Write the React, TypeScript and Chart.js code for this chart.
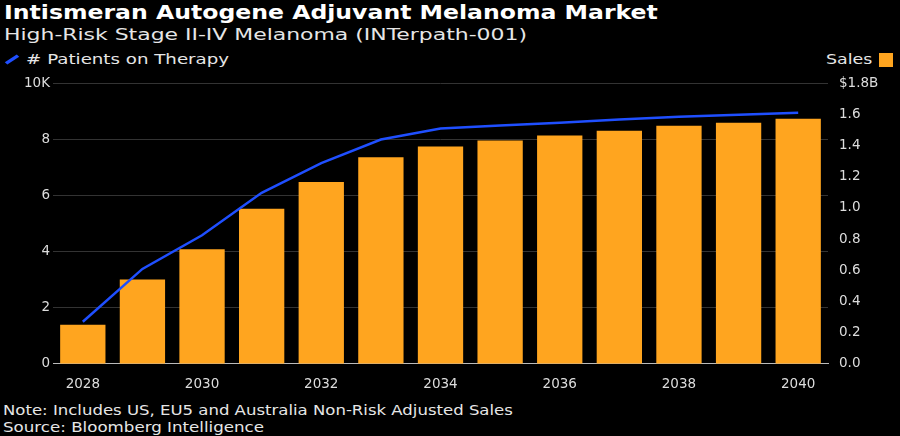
import React, { useEffect, useRef } from "react";
import { Chart, registerables } from "chart.js";
Chart.register(...registerables);

const years = ["2028","2029","2030","2031","2032","2033","2034","2035","2036","2037","2038","2039","2040"];
const salesB = [0.25,0.54,0.735,0.995,1.166,1.325,1.394,1.432,1.464,1.495,1.527,1.546,1.572];
const patientsK = [1.5,3.38,4.58,6.09,7.15,7.99,8.38,8.49,8.59,8.7,8.8,8.87,8.94];

export default function App() {
  const ref = useRef<HTMLCanvasElement>(null);
  useEffect(() => {
    const font = { family: "DejaVu Sans", size: 13.5 };
    const c = new Chart(ref.current!, {
      data: {
        labels: years,
        datasets: [
          { type: "line", data: patientsK, borderColor: "#1f4fff", borderWidth: 2.5, pointRadius: 0, yAxisID: "yL", order: 0 },
          { type: "bar", data: salesB, backgroundColor: "#ffa51f", yAxisID: "yR", categoryPercentage: 0.8, barPercentage: 0.95, order: 1 },
        ],
      },
      options: {
        animation: false, responsive: false, maintainAspectRatio: false,
        plugins: { legend: { display: false }, tooltip: { enabled: false } },
        layout: { padding: { left: 0, right: 0, top: 8, bottom: 0 } },
        scales: {
          x: {
            grid: { display: false, drawTicks: true },
            border: { color: "#bbbbbb" },
            ticks: { color: "#dddddd", font, maxRotation: 0, autoSkip: false, padding: 5,
              callback: (_v: any, i: number) => (i % 2 === 0 ? years[i] : "") },
          },
          yL: {
            position: "left", min: 0, max: 10,
            ticks: { stepSize: 2, color: "#dddddd", font, callback: (v: any) => (v === 10 ? "10K" : String(v)) },
            grid: { color: "#333333", drawTicks: false }, border: { display: false },
            afterFit: (s: any) => { s.width = 53; },
          },
          yR: {
            position: "right", min: 0, max: 1.8,
            ticks: { stepSize: 0.2, color: "#dddddd", font, callback: (v: any) => (Math.abs(v - 1.8) < 1e-6 ? "$1.8B" : Number(v).toFixed(1)) },
            grid: { display: false }, border: { display: false },
            afterFit: (s: any) => { s.width = 64; },
          },
        },
      },
    } as any);
    return () => c.destroy();
  }, []);
  const t: React.CSSProperties = { fontFamily: "DejaVu Sans", color: "#e6e6e6", position: "absolute", whiteSpace: "nowrap", transformOrigin: "left top" };
  return (
    <div style={{ position: "fixed", inset: 0, background: "#000", width: 900, height: 436 }}>
      <div style={{ ...t, left: 4, top: 1, fontSize: 19, fontWeight: "bold", color: "#fff", transform: "scaleX(1.24)" }}>Intismeran Autogene Adjuvant Melanoma Market</div>
      <div style={{ ...t, left: 4, top: 25, fontSize: 16, transform: "scaleX(1.37)" }}>High-Risk Stage II-IV Melanoma (INTerpath-001)</div>
      <div style={{ ...t, left: 4, top: 51, fontSize: 14, display: "flex", alignItems: "center", transform: "scaleX(1.3)" }}>
        <span style={{ display: "inline-block", width: 12, height: 2.5, background: "#1f4fff", transform: "rotate(-40deg)", marginRight: 5 }} />
        # Patients on Therapy
      </div>
      <div style={{ ...t, left: 826, top: 51, fontSize: 14, transform: "scaleX(1.24)" }}>Sales</div>
      <span style={{ position: "absolute", left: 879, top: 53, width: 14, height: 14, background: "#ffa51f" }} />
      <canvas ref={ref} width={892} height={326} style={{ position: "absolute", left: 0, top: 72 }} />
      <div style={{ ...t, left: 3, top: 402, fontSize: 14, transform: "scaleX(1.18)" }}>Note: Includes US, EU5 and Australia Non-Risk Adjusted Sales</div>
      <div style={{ ...t, left: 3, top: 419, fontSize: 14, transform: "scaleX(1.19)" }}>Source: Bloomberg Intelligence</div>
    </div>
  );
}
